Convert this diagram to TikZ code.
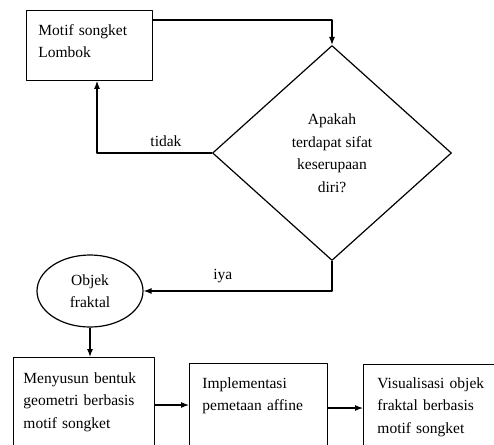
\documentclass[tikz,border=0pt]{standalone}
\usepackage{fontspec}
\setmainfont{Liberation Serif}
\usetikzlibrary{calc,shapes.geometric,arrows.meta}

\begin{document}
\begin{tikzpicture}[line join=round,>={Latex[length=8pt,width=6pt]},x=1pt,y=-1pt,
	every node/.style={font=\fontsize{15.5}{22.5}\selectfont},
	kotak/.style={draw,line width=0.9pt,anchor=north west,align=left,inner ysep=0pt},
	panah/.style={->,line width=1.1pt}]
	\useasboundingbox (0,0) rectangle (494,444);
	\clip (0,0) rectangle (494,444);
	% Kotak atas dan pertanyaan
	\node[kotak,text width=102pt,inner xsep=12pt,text height=25pt,text depth=45pt] (motif) at (26,10) {Motif songket\\Lombok};
	\node[draw,diamond,line width=1.2pt,minimum width=239pt,minimum height=215pt,inner sep=0pt,align=center] (tanya) at (332,153) {Apakah\\terdapat sifat\\keserupaan\\diri?};
	\node[draw,ellipse,line width=1.2pt,minimum width=106pt,minimum height=72pt,inner sep=0pt,align=center] (objek) at (90,291) {Objek\\fraktal};
	% Kotak bawah
	\node[kotak,text width=121pt,inner xsep=10pt,text height=26pt,text depth=67pt] (susun) at (13,357) {Menyusun bentuk\\geometri berbasis\\motif songket};
	\node[kotak,text width=112pt,inner xsep=13pt,text height=25pt,text depth=65pt] (affine) at (189,363) {Implementasi\\pemetaan affine};
	\node[kotak,text width=112pt,inner xsep=14pt,text height=24pt,text depth=65pt] (visual) at (363,364) {Visualisasi objek\\fraktal berbasis\\motif songket};
	% Panah
	\draw[panah] ($(motif.north east)+(0,10)$) -| (tanya.north);
	\draw[panah] (tanya.west) -| node[pos=0.2,above=2pt]{tidak} ($(motif.south west)+(71,0)$);
	\draw[panah] (tanya.south) |- node[pos=0.79,above=4pt]{iya} (objek.east);
	\draw[panah] (objek.south) -- (objek.south |- susun.north);
	\draw[panah] ($(susun.north east)+(0,48)$) -- ($(affine.north west)+(0,42)$);
	\draw[panah] ($(affine.north east)+(0,45)$) -- ($(visual.north west)+(0,44)$);
\end{tikzpicture}
\end{document}
